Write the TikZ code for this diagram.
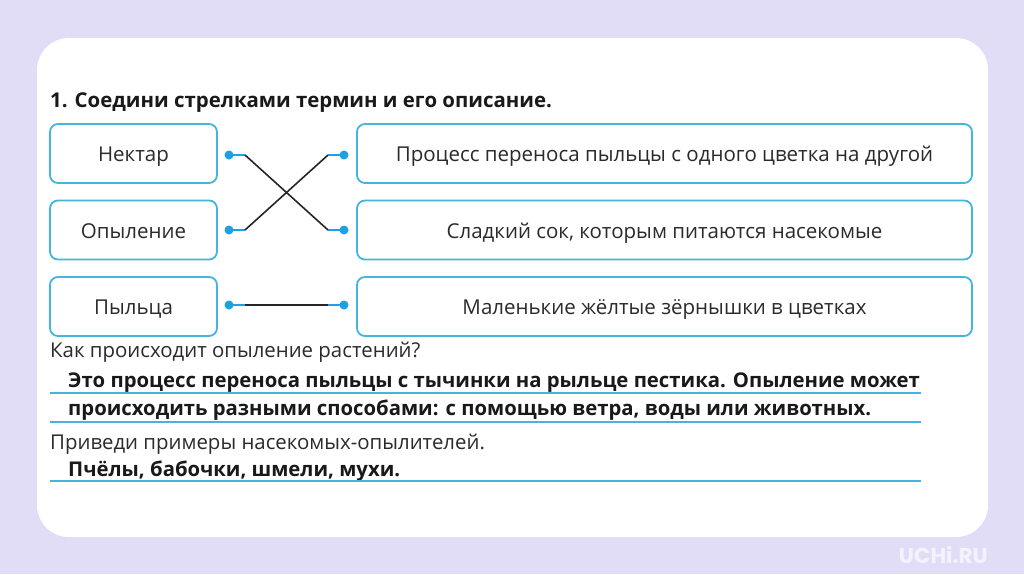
\documentclass[tikz,border=0pt]{standalone}
\usepackage{fontspec}
\setmainfont{Open Sans}
\newfontfamily\logofont{Poppins}
\definecolor{bg}{HTML}{E1DDF6}
\definecolor{logo}{HTML}{F4F2FD}
\definecolor{cy}{HTML}{45B5DF}
\definecolor{dotc}{HTML}{1EA0E2}
\definecolor{txt}{HTML}{2B2B2B}
\tikzset{
  box/.style={draw=cy, line width=1.8pt, rounded corners=8pt, fill=white, inner sep=0pt, minimum height=59pt, text height=20pt, text depth=4pt, text=txt, font=\fontsize{20.5}{24}\selectfont},
  termbox/.style={box, minimum width=167pt},
  descbox/.style={box, minimum width=615pt},
  dotn/.style={circle, fill=dotc, minimum size=9pt, inner sep=0pt},
  stub/.style={draw=dotc, line width=1.5pt},
  link/.style={draw=black!85, line width=1.6pt},
  qtext/.style={anchor=base west, inner sep=0pt, text=txt, font=\fontsize{20.4}{24}\selectfont},
  atext/.style={anchor=base west, inner sep=0pt, text=black!90, font=\bfseries\fontsize{20.3}{24}\selectfont},
  uline/.style={draw=cy, line width=1.3pt}
}
\begin{document}
\begin{tikzpicture}[x=1pt,y=-1pt]
\useasboundingbox (0,0) rectangle (1024,574);
\fill[bg] (0,0) rectangle (1024,574);
\fill[white, rounded corners=32pt] (37,38) rectangle (988,537);
\node[anchor=base west, inner sep=0pt, font=\bfseries\fontsize{20.4}{24}\selectfont, text=black!90] (title) at (50,107) {1. Соедини стрелками термин и его описание.};
% term boxes
\node[termbox] (t1) at (133.5,153.5) {Нектар};
\node[termbox] (t2) at (133.5,230) {Опыление};
\node[termbox] (t3) at (133.5,306.5) {Пыльца};
% description boxes
\node[descbox] (d1) at (664.5,153.5) {Процесс переноса пыльцы с одного цветка на другой};
\node[descbox] (d2) at (664.5,230) {Сладкий сок, которым питаются насекомые};
\node[descbox] (d3) at (664.5,306.5) {Маленькие жёлтые зёрнышки в цветках};
% dots
\node[dotn] (l1) at (229,155) {};
\node[dotn] (l2) at (229,230) {};
\node[dotn] (l3) at (229,305) {};
\node[dotn] (r1) at (344,155) {};
\node[dotn] (r2) at (344,230) {};
\node[dotn] (r3) at (344,305) {};
\coordinate (kl1) at (245,155);
\coordinate (kl2) at (245,230);
\coordinate (kl3) at (245,305);
\coordinate (kr1) at (328,155);
\coordinate (kr2) at (328,230);
\coordinate (kr3) at (328,305);
\draw[stub] (l1.center) -- (kl1);
\draw[stub] (l2.center) -- (kl2);
\draw[stub] (l3.center) -- (kl3);
\draw[stub] (r1.center) -- (kr1);
\draw[stub] (r2.center) -- (kr2);
\draw[stub] (r3.center) -- (kr3);
\draw[link] (kl1) -- (kr2);
\draw[link] (kl2) -- (kr1);
\draw[link] (kl3) -- (kr3);
% questions and answers
\node[qtext] (q1) at (50,357) {Как происходит опыление растений?};
\node[atext] (a1) at (68,387) {Это процесс переноса пыльцы с тычинки на рыльце пестика. Опыление может};
\coordinate (u1a) at (50,393); \coordinate (u1b) at (921,393);
\draw[uline] (u1a) -- (u1b);
\node[atext] (a2) at (68,415) {происходить разными способами: с помощью ветра, воды или животных.};
\coordinate (u2a) at (50,422); \coordinate (u2b) at (921,422);
\draw[uline] (u2a) -- (u2b);
\node[qtext] (q2) at (50,449) {Приведи примеры насекомых-опылителей.};
\node[atext] (a3) at (68,476) {Пчёлы, бабочки, шмели, мухи.};
\coordinate (u3a) at (50,481); \coordinate (u3b) at (921,481);
\draw[uline] (u3a) -- (u3b);
\node[anchor=base east, inner sep=0pt, text=logo, font=\logofont\bfseries\fontsize{21.5}{24}\selectfont] (logo) at (988,563) {UCHi.RU};
\end{tikzpicture}
\end{document}
